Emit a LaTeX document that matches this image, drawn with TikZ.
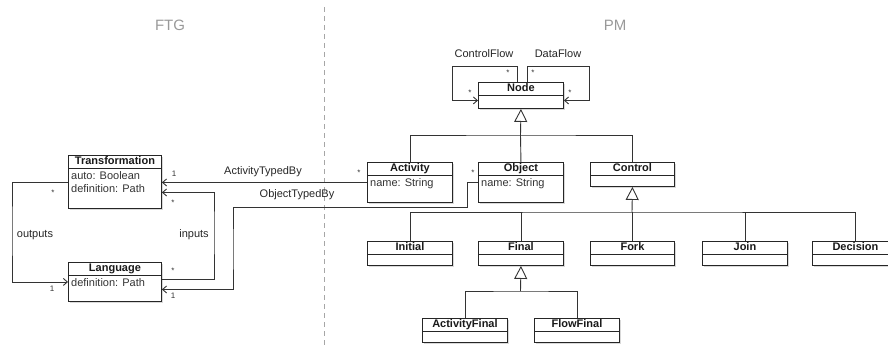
\documentclass[tikz,border=0pt]{standalone}
\usepackage{fontspec}
\setmainfont{Liberation Sans}
\usetikzlibrary{arrows.meta,shadows}

\tikzset{
  cls/.style={draw=black!85, line width=0.9pt, fill=white, anchor=north west, minimum width=85, minimum height=24, inner sep=0,
    drop shadow={shadow xshift=1.5pt, shadow yshift=-1.5pt, opacity=0.3}},
  hdr/.style={anchor=north, minimum height=13, inner sep=0, text height=8, text depth=2.2, font=\fontsize{11}{13}\selectfont\bfseries, text=black!90},
  attr/.style={anchor=north west, inner xsep=3, inner ysep=2.5, align=left, font=\fontsize{11}{13}\selectfont, text=black!80},
  sepline/.style={draw=black!85, line width=0.9pt},
  assoc/.style={draw=black!80, line width=0.9pt, -{Straight Barb[length=4pt, width=7pt]}},
  gen/.style={draw=black!80, line width=0.9pt, -{Triangle[open, length=13pt, width=13pt]}},
  mult/.style={font=\fontsize{8}{9}\selectfont, text=black!80, inner sep=0},
  lbl/.style={font=\fontsize{11}{13}\selectfont, text=black!85, inner sep=0},
  side/.style={font=\fontsize{15}{17}\selectfont, text=black!40},
}

\begin{document}
\begin{tikzpicture}[x=1pt, y=-1pt]
\useasboundingbox (0,0) rectangle (888,345);
% titles and divider
\node[side] (FTG) at (170,25) {FTG};
\node[side] (PM) at (615,25) {PM};
\coordinate (SEPT) at (324,7);
\coordinate (SEPB) at (324,345);
\draw[black!35, dash pattern=on 5pt off 4pt] (SEPT) -- (SEPB);

% FTG classes
\node[cls, minimum width=93, minimum height=53] (TR) at (68,155) {};
\node[hdr] (TR-h) at (TR.north) {Transformation};
\draw[sepline] (TR-h.south -| TR.west) -- (TR-h.south -| TR.east);
\node[attr] (TR-a) at (TR-h.south -| TR.west) {auto: Boolean\\definition: Path};

\node[cls, minimum width=93, minimum height=39] (LANG) at (68,262) {};
\node[hdr] (LANG-h) at (LANG.north) {Language};
\draw[sepline] (LANG-h.south -| LANG.west) -- (LANG-h.south -| LANG.east);
\node[attr] (LANG-a) at (LANG-h.south -| LANG.west) {definition: Path};

% PM classes
\node[cls, minimum height=26] (NODE) at (478,82) {};
\node[hdr] (NODE-h) at (NODE.north) {Node};
\draw[sepline] (NODE-h.south -| NODE.west) -- (NODE-h.south -| NODE.east);

\node[cls, minimum height=40] (ACT) at (367,162) {};
\node[hdr] (ACT-h) at (ACT.north) {Activity};
\draw[sepline] (ACT-h.south -| ACT.west) -- (ACT-h.south -| ACT.east);
\node[attr] (ACT-a) at (ACT-h.south -| ACT.west) {name: String};

\node[cls, minimum height=40] (OBJ) at (478,162) {};
\node[hdr] (OBJ-h) at (OBJ.north) {Object};
\draw[sepline] (OBJ-h.south -| OBJ.west) -- (OBJ-h.south -| OBJ.east);
\node[attr] (OBJ-a) at (OBJ-h.south -| OBJ.west) {name: String};

\foreach \n/\x/\y/\w/\t in {CTRL/590/162/84/Control, INIT/367/241/85/Initial, FIN/478/241/85/Final,
    FORK/590/241/84/Fork, JOIN/702/241/85/Join, DEC/812/241/86/Decision,
    AFIN/422/318/85/ActivityFinal, FFIN/534/318/85/FlowFinal}{
  \node[cls, minimum width=\w] (\n) at (\x,\y) {};
  \node[hdr] (\n-h) at (\n.north) {\t};
  \draw[sepline] (\n-h.south -| \n.west) -- (\n-h.south -| \n.east);
}

% generalizations
\coordinate (G1) at (520.5,135);
\draw[gen] (G1) -- (NODE.south);
\draw[gen, -] (ACT.north) |- (G1) -| (CTRL.north);
\draw[gen, -] (OBJ.north) -- (G1);

\coordinate (G2) at (632,212);
\draw[gen] (G2) -- (CTRL.south);
\draw[gen, -] (INIT.north) |- (G2) -| (DEC.north);
\foreach \n in {FIN, FORK, JOIN}
  \draw[gen, -] (\n.north) -- (\n.north |- G2);

\coordinate (G3) at (520.5,291);
\draw[gen] (G3) -- (FIN.south);
\draw[gen, -] (AFIN.north) |- (G3) -| (FFIN.north);

% self associations of Node
\coordinate (CF) at (452,66);
\coordinate (DF) at (589,66);
\draw[assoc] ([xshift=-3.5]NODE.north) |- (CF) |- ([yshift=-5]NODE.west);
\draw[assoc] ([xshift=6.5]NODE.north) |- (DF) |- ([yshift=-5]NODE.east);
\node[lbl] (CF-l) at (484,54) {ControlFlow};
\node[lbl] (DF-l) at (558,54) {DataFlow};
\node[mult] at (508,73) {*};
\node[mult] at (470,93) {*};
\node[mult] at (533,73) {*};
\node[mult] at (570,93) {*};

% FTG associations
\coordinate (OUT) at (12,230);
\draw[assoc] (TR.west) -| (OUT) |- (LANG.west);
\node[lbl] (OUT-l) at (35,235) {outputs};
\node[mult] at (53,193) {*};
\node[mult] at (52,289) {1};

\coordinate (IN) at (214,230);
\draw[assoc] ([yshift=2.5]LANG.east) -| (IN) |- ([yshift=-10.5]TR.east);
\node[lbl] (IN-l) at (194,235) {inputs};
\node[mult] at (173,203) {*};
\node[mult] at (173,271) {*};

% typing associations
\draw[assoc] (ACT.west) -- (ACT.west -| TR.east);
\node[lbl] (ATB) at (263,172) {ActivityTypedBy};
\node[mult] at (174,174) {1};
\node[mult] at (359,173) {*};

\coordinate (OT1) at (467,207);
\coordinate (OT2) at (233,250);
\draw[assoc] (OBJ.west) -| (OT1) -| (OT2) |- ([yshift=-7.5]LANG.east);
\node[lbl] (OTB) at (297,195) {ObjectTypedBy};
\node[mult] at (473,173) {*};
\node[mult] at (173,296) {1};
\end{tikzpicture}
\end{document}
